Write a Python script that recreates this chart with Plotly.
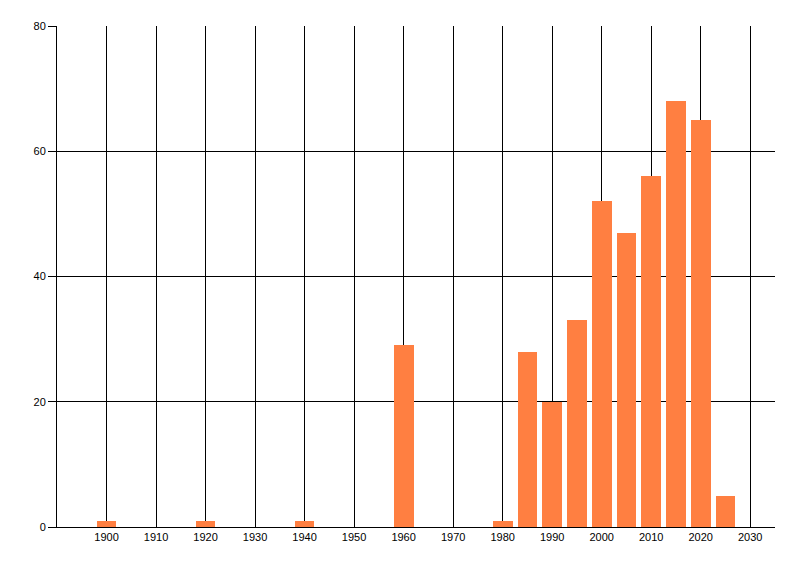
import plotly.graph_objects as go

# year buckets and counts
years = [1900, 1920, 1940, 1960, 1980, 1985, 1990, 1995, 2000, 2005, 2010, 2015, 2020, 2025]
counts = [1, 1, 1, 29, 1, 28, 20, 33, 52, 47, 56, 68, 65, 5]

x_ticks = list(range(1900, 2031, 10))
y_ticks = [0, 20, 40, 60, 80]

fig = go.Figure()
fig.add_trace(go.Bar(x=years, y=counts, width=4, marker=dict(color="#FF7F41", line=dict(width=0))))

# page body has an 8px margin, so the figure is sized to fit inside it
fig.update_layout(
    width=792, height=568,
    margin=dict(l=49, r=25, t=18, b=49),
    paper_bgcolor="white", plot_bgcolor="white",
    font=dict(family="Liberation Sans", size=11, color="black"),
    showlegend=False,
    bargap=0,
)
fig.update_xaxes(
    range=[1890, 2035], tickvals=x_ticks, ticktext=[str(t) for t in x_ticks],
    showgrid=True, gridcolor="black", gridwidth=1,
    showline=True, linecolor="black", linewidth=1,
    ticks="", zeroline=False, tickfont=dict(size=11),
)
fig.update_yaxes(
    range=[0, 80], tickvals=y_ticks,
    showgrid=True, gridcolor="black", gridwidth=1,
    showline=True, linecolor="black", linewidth=1,
    ticks="outside", ticklen=8, tickcolor="black", zeroline=False, tickfont=dict(size=11),
)

fig.write_html("out.html")
